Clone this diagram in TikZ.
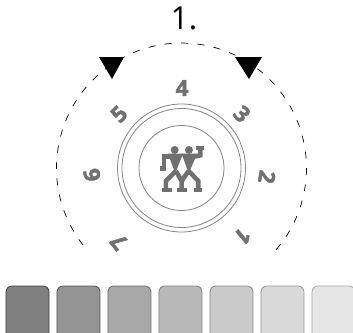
\documentclass[tikz,border=0pt]{standalone}
\usepackage{fontspec}
\setsansfont[BoldFeatures={FakeBold=2.2}]{Open Sans}
\definecolor{grisLogo}{RGB}{112,112,112}
\tikzstyle{ring}=[draw=grisLogo!85, line width=0.7pt]
\tikzstyle{digit}=[text=grisLogo, inner sep=0pt, font=\sffamily\bfseries\fontsize{19}{19}\selectfont]
\tikzstyle{marker}=[fill=black, draw=none]
\tikzstyle{swatch}=[rounded corners=5pt, line width=0.7pt]
\tikzstyle{limb}=[draw=grisLogo, line width=3.9pt, line join=miter]

\begin{document}
\begin{tikzpicture}[x=0.03cm,y=-0.03cm]
    \useasboundingbox (0,0) rectangle (353,333);

    \node (titulo) at (184,18) {\fontsize{27}{27}\selectfont\sffamily 1.};

    % dashed scale
    \draw [dash pattern=on 6pt off 8pt, line width=0.6pt] (83,245) arc[start angle=142, end angle=402, radius=125];
    \fill [marker] (99,57) -- (124,57) -- (112,79) -- cycle;
    \fill [marker] (235,57) -- (262,57) -- (249,79) -- cycle;

    % rings
    \foreach \r in {64,59.5,42.5}
        \draw [ring] (181.5,168) circle [radius=\r];

    % numbers
    \foreach \n/\x/\y/\a in {4/182/88/0,5/119/114/45,3/242/114/-45,2/267/177/-100,1/243/236/-140,7/119/242/130,6/92/175/100}
        \node (n\n) [digit,rotate=\a] at (\x,\y) {\n};

    % twins
    \begin{scope}[shift={(100,110)},x=0.01cm,y=-0.01cm]
        \fill [grisLogo] (224,120) circle [radius=12];
        \fill [grisLogo] (267,120) circle [radius=12];
        \fill [grisLogo] (204,131) -- (249,131) -- (226,190) -- cycle;
        \fill [grisLogo] (245,131) -- (292,131) -- (266,190) -- cycle;
        \draw [limb] (212,140) -- (192,140) -- (192,175);
        \draw [limb] (180,175) -- (198,175);
        \draw [limb] (285,140) -- (301,136) -- (301,114);
        \draw [limb] (288,114) -- (312,114);
        \draw [limb] (228,183) -- (198,213) -- (198,240);
        \draw [limb] (228,183) -- (245,213) -- (245,240);
        \draw [limb] (266,183) -- (245,213);
        \draw [limb] (266,183) -- (295,213) -- (295,240);
        \foreach \x/\y in {186/215,232/262,282/305}
            \draw [limb] (\x,240) -- (\y,240);
    \end{scope}

    % swatches
    \foreach \i/\f/\b in {0/128/68,1/148/84,2/168/110,3/185/128,4/202/135,5/217/150,6/230/170}{
        \definecolor{relleno}{RGB}{\f,\f,\f}
        \definecolor{borde}{RGB}{\b,\b,\b}
        \draw [swatch,fill=relleno,draw=borde] (6+51*\i,286) rectangle (49+51*\i,340);
    }
\end{tikzpicture}
\end{document}
